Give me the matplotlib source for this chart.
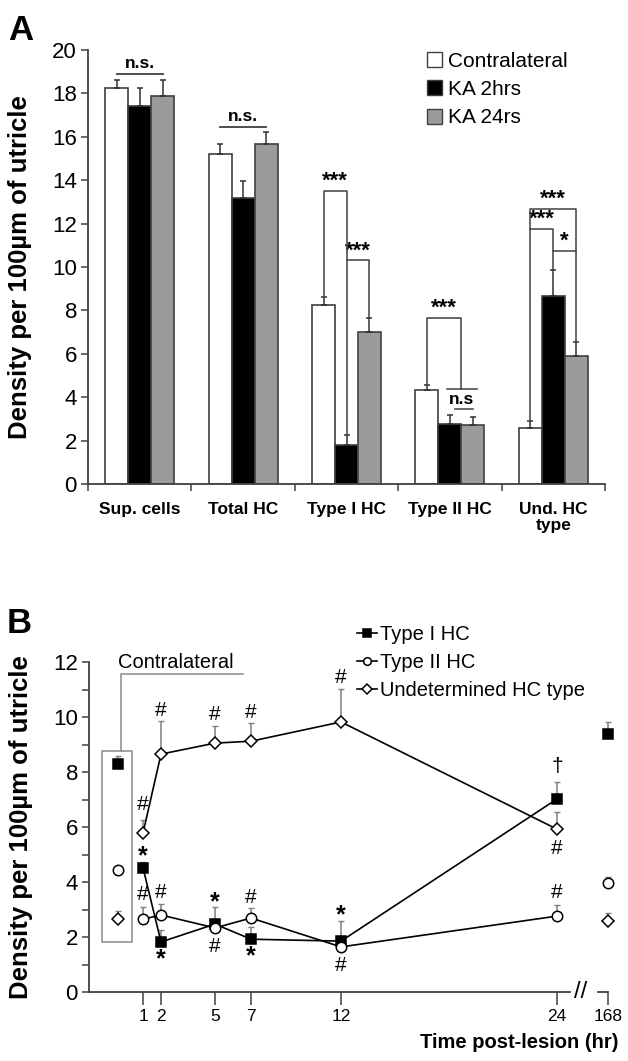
import matplotlib
matplotlib.use("Agg")
import matplotlib.pyplot as plt
import numpy as np
from matplotlib.patches import Rectangle

plt.rcParams['font.family'] = ['Liberation Sans', 'DejaVu Sans']

# ---------------- Panel A data ----------------
categories = ["Sup. cells", "Total HC", "Type I HC", "Type II HC", "Und. HC\ntype"]
groups = ["Contralateral", "KA 2hrs", "KA 24rs"]
contra_vals = [18.25, 15.2, 8.25, 4.35, 2.6]
contra_err = [0.35, 0.45, 0.35, 0.2, 0.3]
ka2_vals = [17.4, 13.2, 1.8, 2.75, 8.65]
ka2_err = [0.85, 0.75, 0.45, 0.45, 1.2]
ka24_vals = [17.9, 15.65, 7.0, 2.7, 5.9]
ka24_err = [0.7, 0.55, 0.65, 0.4, 0.65]
bar_colors = ["white", "black", "#9b9b9b"]

# ---------------- Panel B data ----------------
hours = [1, 2, 5, 7, 12, 24]
hour_labels = ["1", "2", "5", "7", "12", "24"]
late_hour = 168
typeI = [4.52, 1.82, 2.47, 1.92, 1.85, 7.02]
typeI_err = [0.2, 0.43, 0.61, 0.45, 0.73, 0.62]
typeII = [2.65, 2.8, 2.33, 2.69, 1.64, 2.76]
typeII_err = [0.43, 0.4, 0.15, 0.36, 0.15, 0.4]
und = [5.78, 8.65, 9.05, 9.12, 9.82, 5.92]
und_err = [0.47, 1.2, 0.62, 0.66, 1.2, 0.63]
contra_typeI, contra_typeI_err = 8.29, 0.29
contra_typeII, contra_typeII_err = 4.44, 0.0
contra_und, contra_und_err = 2.65, 0.3
late_typeI, late_typeI_err = 9.38, 0.44
late_typeII, late_typeII_err = 3.95, 0.25
late_und, late_und_err = 2.58, 0.3

# significance marks (hour, y, symbol)
marks_B = [(1, 4.95, "*"), (2, 1.2, "*"), (5, 3.25, "*"), (7, 1.3, "*"), (12, 2.8, "*"), (24, 8.2, "\u2020"),
           (1, 3.55, "#"), (2, 3.6, "#"), (5, 1.65, "#"), (7, 3.45, "#"), (12, 0.95, "#"), (24, 3.6, "#"),
           (1, 6.8, "#"), (2, 10.25, "#"), (5, 10.1, "#"), (7, 10.15, "#"), (12, 11.45, "#"), (24, 5.2, "#")]

W, H = 628, 1061
fig = plt.figure(figsize=(W / 100, H / 100), dpi=100)

spine_col = "#404040"

# ================= Panel A =================
axA = fig.add_axes([88 / W, 1 - 484 / H, (605 - 88) / W, (484 - 50) / H])
x = np.arange(len(categories))
bw = 0.222
offsets = [-bw, 0, bw]
vals_all = [contra_vals, ka2_vals, ka24_vals]
errs_all = [contra_err, ka2_err, ka24_err]
for i in range(3):
    axA.bar(x + offsets[i], vals_all[i], width=bw, color=bar_colors[i], edgecolor=spine_col,
            linewidth=1.2, label=groups[i], zorder=2)
    axA.errorbar(x + offsets[i], vals_all[i], yerr=[np.zeros(len(x)), errs_all[i]], fmt='none',
                 ecolor="#303030", elinewidth=1.1, capsize=2.2, capthick=1.1, zorder=3)

axA.set_xlim(-0.5, 4.5)
axA.set_ylim(0, 20)
axA.set_yticks(np.arange(0, 21, 2))
axA.tick_params(axis='y', labelsize=16, length=5, width=1.1, color=spine_col, pad=3)
axA.set_xticks(np.arange(-0.5, 4.6, 1.0))
axA.set_xticklabels([])
axA.tick_params(axis='x', length=5, width=1.1, color=spine_col)
for i, c in enumerate(categories):
    axA.text(i, -0.85, c, ha='center', va='top', fontsize=12.5, fontweight='bold', linespacing=1.05)
for s in ['top', 'right']:
    axA.spines[s].set_visible(False)
for s in ['left', 'bottom']:
    axA.spines[s].set_color(spine_col)
    axA.spines[s].set_linewidth(1.3)
axA.set_ylabel("Density per 100\u00b5m of utricle", fontsize=18.5, fontweight='bold')
axA.yaxis.set_label_coords(-0.108, 0.5)

legA = axA.legend(loc='upper left', bbox_to_anchor=(0.635, 1.02), frameon=False, fontsize=15,
                  handlelength=0.75, handleheight=0.75, handletextpad=0.25, labelspacing=0.45,
                  borderpad=0)
for p in legA.get_patches():
    p.set_linewidth(1.0)


def tops(ci):
    return [contra_vals[ci] + contra_err[ci], ka2_vals[ci] + ka2_err[ci], ka24_vals[ci] + ka24_err[ci]]


def bracket(ax, x1, b1, x2, b2, top, label, fs=16, dy=-0.05):
    ax.plot([x1, x1, x2, x2], [b1, top, top, b2], color=spine_col, lw=1.1, zorder=4)
    ax.text((x1 + x2) / 2, top + dy, label, ha='center', va='bottom', fontsize=fs, fontweight='bold')


# Sup. cells / Total HC n.s.
for ci, lev in [(0, 18.9), (1, 16.45)]:
    axA.plot([ci - bw, ci + bw], [lev, lev], color=spine_col, lw=1.3)
    axA.text(ci, lev + 0.12, "n.s.", ha='center', va='bottom', fontsize=12.5, fontweight='bold')
# Type I HC
t = tops(2)
bracket(axA, 2 - bw, t[0], 2, t[1], 13.5, "***")
bracket(axA, 2, 10.3, 2 + bw, t[2], 10.3, "***")
# Type II HC
t = tops(3)
bracket(axA, 3 - bw, t[0], 3 + 0.107, 4.4, 7.65, "***")
axA.plot([3 - 0.03, 3 + bw + 0.04], [4.4, 4.4], color=spine_col, lw=1.1)
axA.text(3 + 0.11, 3.9, "n.s", ha='center', va='center', fontsize=12.5, fontweight='bold')
axA.plot([3 + 0.05, 3 + 0.22], [3.45, 3.45], color=spine_col, lw=1.1)
# Und. HC type
t = tops(4)
bracket(axA, 4 - bw, t[0], 4 + bw, t[2], 12.67, "***")
bracket(axA, 4 - bw, 11.75, 4, t[1], 11.75, "***")
bracket(axA, 4, 10.74, 4 + bw, 10.74, 10.74, "*")

fig.text(8 / W, 1 - 40 / H, "A", fontsize=25, fontweight='bold', ha='left', va='baseline')

# ================= Panel B =================
axB = fig.add_axes([89 / W, 1 - 992 / H, (570 - 89) / W, (992 - 662) / H])
xmin_B = -2.0
xmax_B = 24.72
axB.set_xlim(xmin_B, xmax_B)
axB.set_ylim(0, 12)
contra_x = -0.4
err_col = "#7f7f7f"
series = [(typeI, typeI_err, 's', 'black', 7.5, "Type I HC"),
          (typeII, typeII_err, 'o', 'white', 7.5, "Type II HC"),
          (und, und_err, 'D', 'white', 6.0, "Undetermined HC type")]
handles = []
for vals, errs, m, fc, ms, lab in series:
    axB.errorbar(hours, vals, yerr=[np.zeros(len(vals)), errs], fmt='none', ecolor=err_col,
                 elinewidth=1.1, capsize=2.2, capthick=1.0, zorder=2)
    h, = axB.plot(hours, vals, color='black', lw=1.2, marker=m, markersize=ms,
                  markerfacecolor=fc, markeredgecolor='black', markeredgewidth=1.1, zorder=3, label=lab)
    handles.append(h)

# contralateral points
for v, e, m, fc, ms in [(contra_typeI, contra_typeI_err, 's', 'black', 7.5),
                        (contra_typeII, contra_typeII_err, 'o', 'white', 7.5),
                        (contra_und, contra_und_err, 'D', 'white', 6.0)]:
    if e > 0:
        axB.errorbar([contra_x], [v], yerr=[[0], [e]], fmt='none', ecolor=err_col, elinewidth=1.1,
                     capsize=2.2, zorder=2)
    axB.plot([contra_x], [v], marker=m, markersize=ms, markerfacecolor=fc, markeredgecolor='black',
             markeredgewidth=1.1, linestyle='none', zorder=3)

box_col = "#8a8a8a"
axB.add_patch(Rectangle((-1.28, 1.82), 1.67, 8.76 - 1.82, fill=False, edgecolor=box_col, lw=1.1, zorder=1))
axB.plot([-0.2, -0.2, 6.55], [8.76, 11.57, 11.57], color=box_col, lw=1.1, clip_on=False)
axB.text(-0.4, 11.62, "Contralateral", ha='left', va='bottom', fontsize=14.5)

for hx, yy, sym in marks_B:
    if sym == "*":
        axB.text(hx, yy, sym, ha='center', va='center', fontsize=18, fontweight='bold')
    else:
        axB.text(hx, yy, sym, ha='center', va='center', fontsize=15)

axB.set_yticks(np.arange(0, 13, 2))
axB.set_yticks(np.arange(1, 12, 2), minor=True)
axB.tick_params(axis='y', which='both', labelsize=16, length=5, width=1.1, color=spine_col, pad=3)
axB.set_xticks(hours)
axB.set_xticklabels(hour_labels)
axB.tick_params(axis='x', labelsize=12.5, length=9, width=1.1, color=spine_col, pad=3)
for s in ['top', 'right']:
    axB.spines[s].set_visible(False)
for s in ['left', 'bottom']:
    axB.spines[s].set_color(spine_col)
    axB.spines[s].set_linewidth(1.3)
axB.set_ylabel("Density per 100\u00b5m of utricle", fontsize=18.5, fontweight='bold')
axB.yaxis.set_label_coords(-0.117, 0.5)
axB.text(25.3, 0, "//", ha='center', va='center', fontsize=17, clip_on=False)

legB = axB.legend(handles=handles, loc='upper left', bbox_to_anchor=((357 - 89) / (570 - 89), (992 - 625) / 330),
                  frameon=False, fontsize=14.5, handlelength=1.0, handletextpad=0.15, labelspacing=0.45,
                  borderpad=0, borderaxespad=0)
for h in legB.get_lines():
    h.set_markersize(5.5)

# 168 h segment
axL = fig.add_axes([598 / W, 1 - 992 / H, 10 / W, (992 - 662) / H])
axL.set_xlim(late_hour - 10 / 18, late_hour)
axL.set_ylim(0, 12)
for v, e, m, fc, ms in [(late_typeI, late_typeI_err, 's', 'black', 7.5),
                        (late_typeII, late_typeII_err, 'o', 'white', 7.5),
                        (late_und, late_und_err, 'D', 'white', 6.0)]:
    axL.errorbar([late_hour], [v], yerr=[[0], [e]], fmt='none', ecolor=err_col, elinewidth=1.1,
                 capsize=2.2, zorder=2, clip_on=False)
    axL.plot([late_hour], [v], marker=m, markersize=ms, markerfacecolor=fc, markeredgecolor='black',
             markeredgewidth=1.1, linestyle='none', zorder=3, clip_on=False)
axL.set_xticks([late_hour])
axL.set_xticklabels([str(late_hour)])
axL.tick_params(axis='x', labelsize=12.5, length=9, width=1.1, color=spine_col, pad=3)
axL.set_yticks([])
for s in ['top', 'right', 'left']:
    axL.spines[s].set_visible(False)
axL.spines['bottom'].set_color(spine_col)
axL.spines['bottom'].set_linewidth(1.3)
axL.patch.set_visible(False)

fig.text(618 / W, 1 - 1043 / H, "Time post-lesion (hr)", ha='right', va='center', fontsize=14.5,
         fontweight='bold')
fig.text(7 / W, 1 - 633 / H, "B", fontsize=25, fontweight='bold', ha='left', va='baseline')

fig.savefig("out.png", dpi=100)
